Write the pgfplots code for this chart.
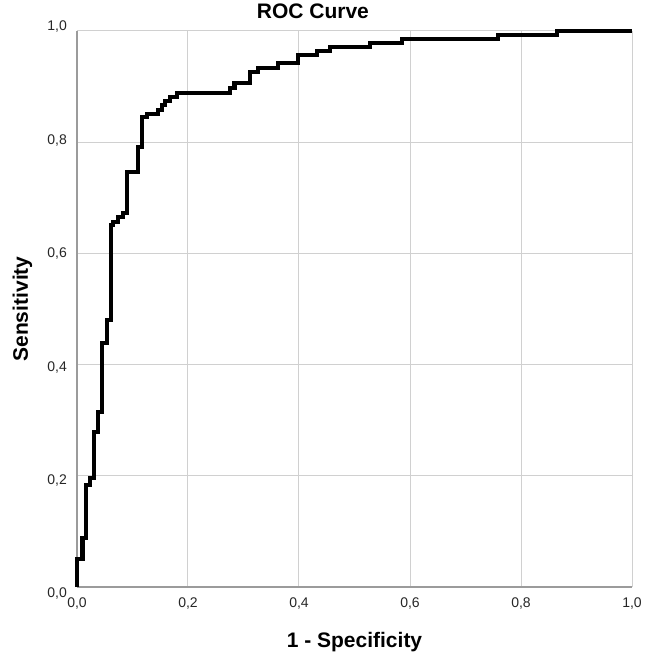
\documentclass[border=0pt]{standalone}
\usepackage{fontspec}
\setmainfont{Liberation Sans}
\usepackage{pgfplots}
\pgfplotsset{compat=1.18}
\definecolor{gridgray}{RGB}{208,208,208}
\definecolor{axgray}{RGB}{155,155,155}
\begin{document}
\begin{tikzpicture}
\path[use as bounding box] (-77pt,-75pt) rectangle (571pt,587pt);
\begin{axis}[
  at={(0,0)}, anchor=south west,
  scale only axis, width=555pt, height=556pt,
  xmin=0, xmax=1, ymin=0, ymax=1,
  xtick={0,0.2,0.4,0.6,0.8,1}, ytick={0,0.2,0.4,0.6,0.8,1},
  grid=major, major grid style={gridgray, line width=1pt},
  axis x line*=bottom, axis y line*=left,
  axis line style={axgray, line width=1.3pt, -},
  major tick length=0pt,
  /pgf/number format/assume math mode=true,
  /pgf/number format/use comma, /pgf/number format/fixed,
  /pgf/number format/fixed zerofill, /pgf/number format/precision=1,
  tick label style={font=\fontsize{14}{16}\selectfont, text=black!85},
  yticklabel style={anchor=east, inner sep=0pt, xshift=-10pt, yshift={-7pt+2.2pt*\ticknum}},
  xticklabel style={anchor=north, inner sep=0pt, yshift=-11pt},
  title={ROC Curve},
  title style={at={(axis description cs:0.425,1.0108)}, anchor=base, font=\bfseries\fontsize{21}{24}\selectfont, inner sep=0pt},
  xlabel={1 - Specificity},
  xlabel style={at={(axis description cs:0.5,-0.1097)}, anchor=base, font=\bfseries\fontsize{21}{24}\selectfont, inner sep=0pt},
  ylabel={Sensitivity},
  ylabel style={at={(axis description cs:-0.0883,0.5)}, anchor=base, font=\bfseries\fontsize{21}{24}\selectfont, inner sep=0pt},
  clip=false,
]
\addplot[const plot mark left, black, line width=4.4pt, line join=miter] coordinates {
(0,0)
(0,0.05)
(0.010,0.088)
(0.016,0.183)
(0.023,0.196)
(0.031,0.279)
(0.038,0.315)
(0.045,0.439)
(0.054,0.480)
(0.061,0.651)
(0.065,0.656)
(0.074,0.665)
(0.083,0.673)
(0.090,0.746)
(0.110,0.791)
(0.117,0.845)
(0.126,0.851)
(0.146,0.858)
(0.153,0.867)
(0.159,0.874)
(0.168,0.881)
(0.180,0.888)
(0.276,0.897)
(0.284,0.906)
(0.312,0.926)
(0.326,0.933)
(0.362,0.942)
(0.398,0.957)
(0.432,0.964)
(0.456,0.971)
(0.528,0.978)
(0.586,0.986)
(0.759,0.993)
(0.865,1.0)
(1.0,1.0)
};
\end{axis}
\end{tikzpicture}
\end{document}
